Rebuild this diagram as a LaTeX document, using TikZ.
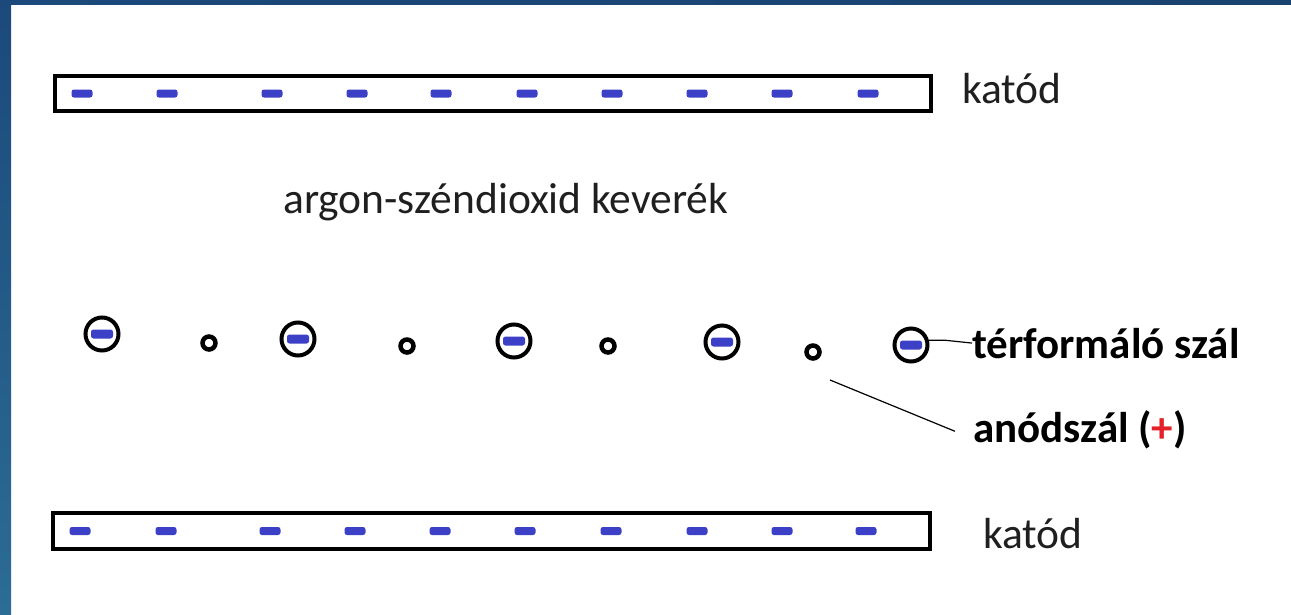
\documentclass[tikz,border=0pt]{standalone}
\usepackage{fontspec}
\setmainfont{Carlito}
\definecolor{dashblue}{RGB}{60,64,198}
\definecolor{frameA}{RGB}{27,73,123}
\definecolor{frameB}{RGB}{44,108,150}
\definecolor{plusred}{RGB}{228,32,40}
\begin{document}
\begin{tikzpicture}[x=1pt,y=-1pt,
  cathode/.style={draw=black,line width=4pt},
  minusmark/.style={fill=dashblue,rounded corners=2.5pt},
  bigion/.style={circle,draw=black,line width=4pt,minimum size=33pt,inner sep=0pt,
    path picture={\fill[dashblue,rounded corners=2.5pt]
      ([xshift=-11pt,yshift=-4.5pt]path picture bounding box.center) rectangle
      ([xshift=11pt,yshift=4.5pt]path picture bounding box.center);}},
  anodewire/.style={circle,draw=black,line width=4.5pt,minimum size=13pt,inner sep=0pt},
  lbl/.style={font=\fontsize{43.5}{52}\selectfont,inner sep=0pt,anchor=base west,text=black!88},
  boldlbl/.style={lbl,font=\fontsize{43}{52}\selectfont\bfseries,text=black},
  leader/.style={draw=black,line width=1.2pt}]
\useasboundingbox (0,0) rectangle (1291,614);
\fill[white] (0,0) rectangle (1291,614);
% frame
\shade[top color=frameA,bottom color=frameB] (0,0) rectangle (11,614);
\shade[left color=frameA,right color=frameA!90!black] (0,0) rectangle (1291,4);
% cathodes
\draw[cathode] (55,76) rectangle (931,111);
\draw[cathode] (53,513) rectangle (930,549);
\foreach \x in {82,167,272,357,441,527,612,697,782,868}
  \fill[minusmark] (\x-10.5,89.5) rectangle (\x+10.5,97.5);
\foreach \x in {80,166,270,355,440,525,611,697,782,866}
  \fill[minusmark] (\x-10.5,527) rectangle (\x+10.5,535);
% labels
\node[lbl] (k1) at (962,103) {katód};
\node[lbl] (k2) at (983,548) {katód};
\node[lbl] (gas) at (283,213) {argon-széndioxid keverék};
% ions / field wires
\node[bigion] (c1) at (102,334) {};
\node[bigion] (c2) at (298,339) {};
\node[bigion] (c3) at (514,341) {};
\node[bigion] (c4) at (722,342) {};
\node[bigion] (c5) at (911,345) {};
\node[anodewire] (s1) at (209,343) {};
\node[anodewire] (s2) at (407,346) {};
\node[anodewire] (s3) at (608,346) {};
\node[anodewire] (s4) at (813,352) {};
\node[boldlbl] (tf) at (972,358) {térformáló szál};
\node[boldlbl] (an) at (973,442) {anódszál ({\color{plusred}+})};
% leaders
\draw[leader] (c5.15) -- ++(16,0) -- (tf.west);
\coordinate (a0) at (830,380);
\draw[leader] (a0) -- ([xshift=-18pt,yshift=-2pt]an.west);
\end{tikzpicture}
\end{document}
